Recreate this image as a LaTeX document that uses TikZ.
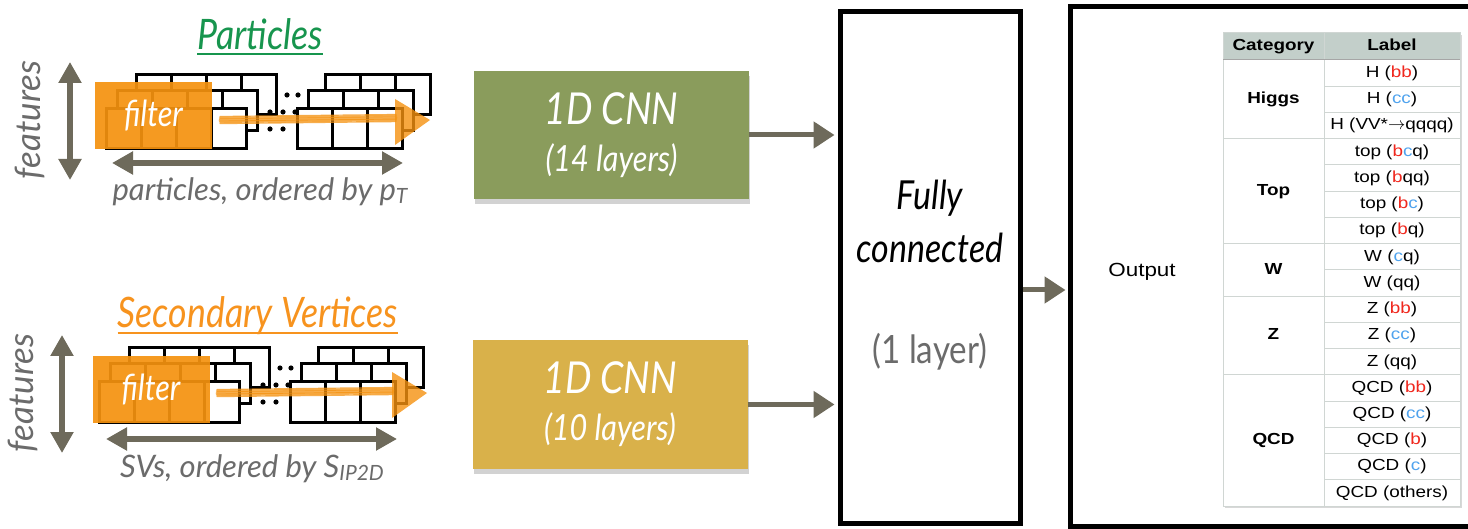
\documentclass[tikz,border=0pt]{standalone}
\usepackage{fontspec}
\usepackage{xcolor}
\usepackage{tikz}
\usetikzlibrary{arrows.meta,shadows}

\newfontfamily\gill[FakeStretch=0.85]{Lato}
\newfontfamily\gillw{Lato}
\newfontfamily\arial[FakeStretch=1.18]{Liberation Sans}

\definecolor{arrowgray}{HTML}{6E6A5B}
\definecolor{textgray}{HTML}{6B6B6B}
\definecolor{ptgreen}{HTML}{17954E}
\definecolor{svorange}{HTML}{F7931E}
\definecolor{filterorange}{HTML}{F5920F}
\definecolor{cnngreen}{HTML}{8A9C5C}
\definecolor{cnngold}{HTML}{D9B14A}
\definecolor{headgray}{HTML}{C3CFCA}
\definecolor{rulegray}{HTML}{D0D6D3}
\definecolor{bred}{HTML}{F0281E}
\definecolor{cblue}{HTML}{4FA3EE}

\newcommand{\fsz}[2]{\fontsize{#1}{#2}\selectfont}
\newcommand{\bq}[1]{\textcolor{bred}{#1}}
\newcommand{\cq}[1]{\textcolor{cblue}{#1}}

% one layer of input cells: x, y, number of cells
\newcommand{\celllayer}[3]{%
  \foreach \c in {1,...,#3}
    \draw[cell] ({#1+(\c-1)*35},#2) rectangle ++(35,40);}

% filter sweep along the sequence
\newcommand{\sweep}{%
  \foreach \dy/\w in {-3.5/1.2,-2/2.2,0/3,1.8/2.4,3.5/1.4}
    \draw[sweepline,line width=\w pt] (220,{120+\dy}) -- (396,{118+\dy});
  \fill[filterorange,opacity=0.8] (395,99) -- (430,120) -- (395,145) -- cycle;}

\begin{document}
\begin{tikzpicture}[x=1pt,y=-1pt,
    cell/.style={draw=black,fill=white,line width=3pt},
    stackdot/.style={black},
    filterbox/.style={fill=filterorange,fill opacity=0.92,text opacity=1,
      text=white,minimum width=117pt,minimum height=67pt,inner sep=0pt,
      font=\gill\itshape\fsz{36}{40}},
    sweepline/.style={filterorange,opacity=0.75,line cap=round},
    dimarrow/.style={arrowgray,line width=6pt,
      {Triangle[length=21pt,width=22pt]}-{Triangle[length=21pt,width=22pt]}},
    flow/.style={arrowgray,line width=5pt,-{Triangle[length=21pt,width=26pt]}},
    title/.style={anchor=base,inner sep=0pt,font=\gill\itshape\fsz{42}{44}},
    axislabel/.style={anchor=base,inner sep=0pt,text=textgray,
      font=\gillw\itshape\fsz{31}{33}},
    feat/.style={rotate=90,inner sep=0pt,text=textgray,
      font=\gillw\itshape\fsz{35}{37}},
    cnn/.style={minimum width=275pt,minimum height=128pt,inner sep=0pt,
      text=white,align=center,font=\gill\itshape\fsz{36}{47},
      drop shadow={opacity=0.35,shadow xshift=1pt,shadow yshift=-5pt}},
    bigbox/.style={draw=black,line width=5pt,inner sep=0pt},
    fctext/.style={anchor=base,inner sep=0pt,font=\gill\itshape\fsz{40}{42}},
    cellt/.style={inner sep=0pt,text height=12pt,text depth=3.5pt,
      font=\arial\fsz{16}{18}},
    cat/.style={cellt,font=\arial\bfseries\fsz{16}{18}}]

  \useasboundingbox (0,0) rectangle (1468,529);
  \fill[white] (0,0) rectangle (1468,529);
  \clip (0,0) rectangle (1468,529);

  % particle input
  \begin{scope}
    \celllayer{136}{75}{4}
    \celllayer{325}{75}{3}
    \celllayer{117}{91}{4}
    \celllayer{308}{91}{3}
    \celllayer{106}{109}{4}
    \celllayer{297}{109}{3}
    \foreach \p in {(287,95),(298,95),(270,112),(283,112),(295,112),(270,129),(283,129)}
      \fill[stackdot] \p circle [radius=2.6pt];
  \end{scope}
  \node[filterbox] (filterpt) at (153.5,115.5) {filter};
  \sweep

  % secondary vertex input
  \begin{scope}[shift={(-7,273)}]
    \celllayer{136}{75}{4}
    \celllayer{325}{75}{3}
    \celllayer{117}{91}{4}
    \celllayer{308}{91}{3}
    \celllayer{106}{109}{4}
    \celllayer{297}{109}{3}
    \foreach \p in {(287,95),(298,95),(270,112),(283,112),(295,112),(270,129),(283,129)}
      \fill[stackdot] \p circle [radius=2.6pt];
  \end{scope}
  \node[filterbox] (filtersv) at (151,389.5) {filter};
  \begin{scope}[shift={(-3,273)}]
    \sweep
  \end{scope}

  \draw[dimarrow] (70,62) -- (70,180);
  \draw[dimarrow] (112,163) -- (403,163);
  \draw[dimarrow] (62,335) -- (62,453);
  \draw[dimarrow] (106,439) -- (397,439);

  \node[feat] (featpt) at (30,120) {features};
  \node[feat] (featsv) at (23,393) {features};

  \node[title,text=ptgreen] (ptitle) at (260,50) {Particles};
  \draw[ptgreen,line width=2pt]
    ([yshift=-4pt]ptitle.base west) -- ([yshift=-4pt]ptitle.base east);
  \node[title,text=svorange] (svtitle) at (258,328) {Secondary Vertices};
  \draw[svorange,line width=2pt]
    ([yshift=-5pt]svtitle.base west) -- ([yshift=-5pt]svtitle.base east);

  \node[axislabel] (ptaxis) at (260,201)
    {particles, ordered by p{\fsz{21}{21}\raisebox{-3pt}{T}}};
  \node[axislabel] (svaxis) at (252,477)
    {SVs, ordered by S{\fsz{21}{21}\raisebox{-3pt}{IP2D}}};

  % convolution blocks
  \node[cnn,fill=cnngreen] (cnnpt) at (611.5,135)
    {{\fsz{44}{47}1D CNN}\\(14 layers)};
  \node[cnn,fill=cnngold] (cnnsv) at (610,404.5)
    {{\fsz{44}{47}1D CNN}\\(10 layers)};

  \node[bigbox,minimum width=180pt,minimum height=511pt] (fc) at (930,267.5) {};
  \node[fctext] (fully) at (930,210) {Fully};
  \node[fctext] (conn) at (930,263) {connected};
  \node[fctext,text=textgray,font=\gill\fsz{39}{41}] (fclayer) at (930,364) {(1 layer)};

  \draw[flow,shorten >=3pt] (cnnpt.east) -- (cnnpt.east -| fc.west);
  \draw[flow,shorten >=3pt] (cnnsv.east) -- (cnnsv.east -| fc.west);

  % output classes
  \node[bigbox,minimum width=430pt,minimum height=519pt] (out) at (1285,266.5) {};
  \coordinate (outlevel) at (0,290);
  \draw[flow,shorten >=2pt] (fc.east |- outlevel) -- (out.west |- outlevel);
  \node[anchor=base,inner sep=0pt,font=\arial\fsz{19}{20}] (outtext) at (1142,277) {Output};

  \def\rh{26.24}
  \path[fill=white,drop shadow={opacity=0.3,shadow xshift=2pt,shadow yshift=-2pt}]
    (1223,33) rectangle (1460,506);
  \fill[headgray] (1223,33) rectangle (1460,60);
  \draw[rulegray,line width=1pt] (1223,33) rectangle (1460,506);
  \draw[rulegray,line width=1pt] (1324,33) -- (1324,506);
  \draw[black!35,line width=1pt] (1223,60) -- (1460,60);
  \foreach \i in {1,...,16}
    \draw[rulegray,line width=1pt] (1324,{60+\i*\rh}) -- (1460,{60+\i*\rh});
  \foreach \i in {3,7,9,12}
    \draw[rulegray,line width=1pt] (1223,{60+\i*\rh}) -- (1324,{60+\i*\rh});

  \node[cat] (hcat) at (1273.5,46.5) {Category};
  \node[cat] (hlab) at (1392,46.5) {Label};

  \foreach \lab [count=\i] in {H (\bq{bb}),H (\cq{cc}),H (VV*$\rightarrow$qqqq),
      top (\bq{b}\cq{c}q),top (\bq{b}qq),top (\bq{b}\cq{c}),top (\bq{b}q),
      W (\cq{c}q),W (qq),Z (\bq{bb}),Z (\cq{cc}),Z (qq),
      QCD (\bq{bb}),QCD (\cq{cc}),QCD (\bq{b}),QCD (\cq{c}),QCD (others)}
    \node[cellt] (lab\i) at (1392,{60+(\i-0.5)*\rh}) {\lab};

  \foreach \name/\mid in {Higgs/1.5,Top/5,W/8,Z/10.5,QCD/14.5}
    \node[cat] (cat\name) at (1273.5,{60+\mid*\rh}) {\name};
\end{tikzpicture}
\end{document}
